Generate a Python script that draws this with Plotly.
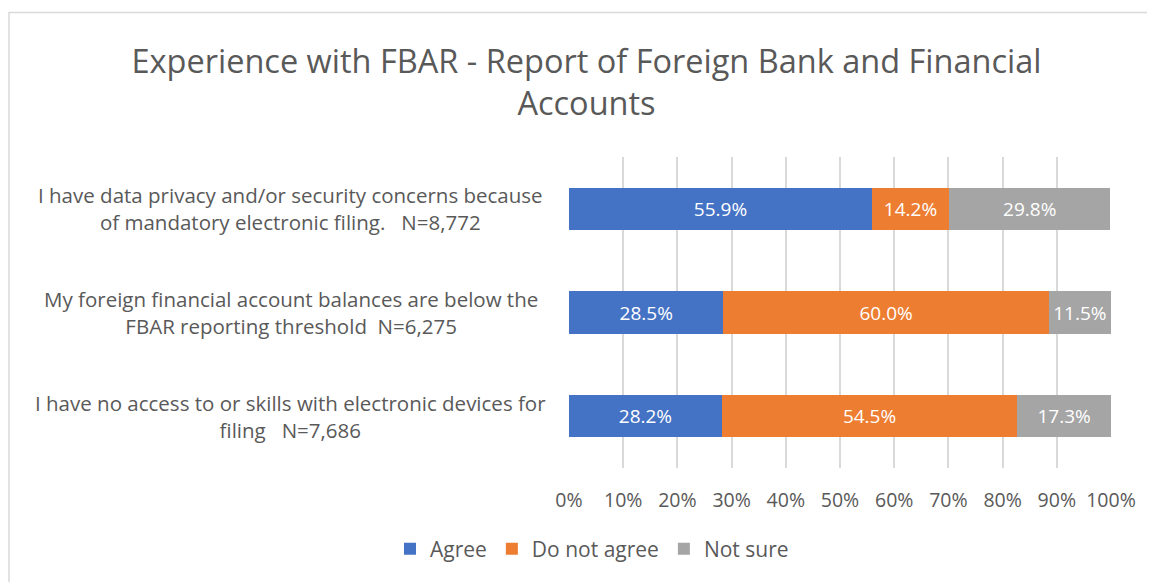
import plotly.graph_objects as go

categories = [
    "I have data privacy and/or security concerns because<br>of mandatory electronic filing.   N=8,772",
    "My foreign financial account balances are below the<br>FBAR reporting threshold  N=6,275",
    "I have no access to or skills with electronic devices for<br>filing   N=7,686",
]
series_names = ["Agree", "Do not agree", "Not sure"]
agree = [55.9, 28.5, 28.2]
do_not_agree = [14.2, 60.0, 54.5]
not_sure = [29.8, 11.5, 17.3]
tick_vals = [0, 10, 20, 30, 40, 50, 60, 70, 80, 90, 100]
tick_text = ["0%", "10%", "20%", "30%", "40%", "50%", "60%", "70%", "80%", "90%", "100%"]
colors = ["#4472C4", "#ED7D31", "#A5A5A5"]

FONT = "Open Sans"
GREY = "#595959"

# figure size (page body adds 8px offset) and plot-area geometry in figure pixels
FW, FH = 1147, 574
L, R, T, B = 561, 1103, 149, 460
W, H = R - L, B - T

fig = go.Figure()
for name, vals, col in zip(series_names, [agree, do_not_agree, not_sure], colors):
    fig.add_trace(go.Bar(
        y=categories, x=vals, name=name, orientation="h",
        marker=dict(color=col, line=dict(width=0)),
        text=[f"{v:.1f}%" for v in vals], textposition="inside",
        insidetextanchor="middle", textangle=0,
        textfont=dict(color="white", size=19, family=FONT),
        width=0.41,
    ))

# category labels (centered multi-line, like the original)
for c in categories:
    fig.add_annotation(x=(282.5 - L) / W, xref="x domain", y=c, yref="y", text=c,
                       showarrow=False, align="center", xanchor="center",
                       font=dict(family=FONT, size=20.5, color=GREY))

# chart border
fig.add_shape(type="rect", xref="paper", yref="paper",
              x0=(1 - L) / W, x1=(FW + 20 - L) / W,
              y0=(B - FH - 20) / H, y1=(B - 4.5) / H,
              line=dict(color="#D9D9D9", width=1.5), layer="below")

fig.update_layout(
    barmode="stack",
    width=FW, height=FH,
    margin=dict(l=L, r=FW - R, t=T, b=FH - B, autoexpand=False),
    paper_bgcolor="white", plot_bgcolor="white",
    title=dict(text="Experience with FBAR - Report of Foreign Bank and Financial<br>Accounts",
               x=578.5 / FW, xanchor="center", xref="container",
               y=1 - 65 / FH, yanchor="middle", yref="container",
               font=dict(family=FONT, size=32.5, color=GREY)),
    xaxis=dict(range=[0, 100], tickvals=tick_vals, ticktext=tick_text,
               showgrid=True, gridcolor="#D9D9D9", gridwidth=1.5,
               zeroline=False, showline=False, ticks="",
               ticklabelstandoff=18,
               tickfont=dict(family=FONT, size=19.5, color=GREY)),
    yaxis=dict(autorange="reversed", showticklabels=False, ticks="",
               showgrid=False, zeroline=False, showline=False),
    legend=dict(orientation="h", x=584 / FW, xanchor="center", xref="container",
                y=1 - 541 / FH, yanchor="middle", yref="container",
                font=dict(family=FONT, size=21, color=GREY),
                itemwidth=30, traceorder="normal"),
    bargap=0.59,
)
fig.write_html("out.html")
